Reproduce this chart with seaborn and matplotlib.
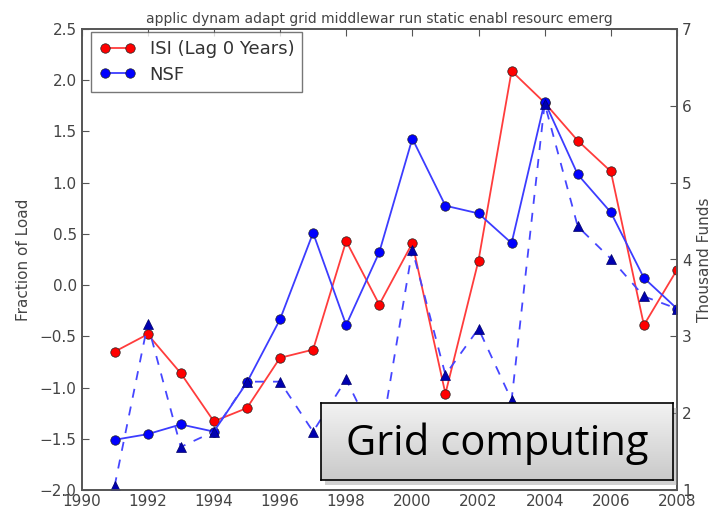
import numpy as np
import pandas as pd
import matplotlib
matplotlib.use("Agg")
import matplotlib.pyplot as plt
import seaborn as sns

years = list(range(1991, 2009))
isi = [-0.65, -0.48, -0.86, -1.33, -1.20, -0.71, -0.63, 0.43, -0.19, 0.41,
       -1.06, 0.24, 2.09, 1.78, 1.41, 1.11, -0.39, 0.15]
nsf = [-1.51, -1.455, -1.36, -1.43, -0.95, -0.335, 0.51, -0.39, 0.32, 1.43,
       0.775, 0.70, 0.41, 1.79, 1.08, 0.71, 0.07, -0.23]
funds = [1.05, 3.16, 1.56, 1.76, 2.41, 2.41, 1.76, 2.44, 1.56, 4.13,
         2.50, 3.10, 2.17, 6.03, 4.43, 4.01, 3.52, 3.36]
title = "applic dynam adapt grid middlewar run static enabl resourc emerg"
xticks = list(range(1990, 2009, 2))
left_ticks = [-2.0, -1.5, -1.0, -0.5, 0.0, 0.5, 1.0, 1.5, 2.0, 2.5]
right_ticks = [1, 2, 3, 4, 5, 6, 7]

sns.set_style("white")
plt.rcParams['font.family'] = ['DejaVu Sans']
txt = '#444444'
plt.rcParams.update({'xtick.direction': 'in', 'ytick.direction': 'in',
                     'xtick.color': '#555555', 'ytick.color': '#555555',
                     'xtick.labelcolor': txt, 'ytick.labelcolor': txt})

df = pd.DataFrame({'year': years, 'isi': isi, 'nsf': nsf, 'funds': funds})

fig = plt.figure(figsize=(7.15, 5.11), dpi=100)
ax = fig.add_axes([81.5/715, 1-490/511, (677-81.5)/715, (490-29)/511])

sns.lineplot(data=df, x='year', y='isi', ax=ax, color='#ff3c3c', marker='o',
             markersize=6.8, markerfacecolor='red', markeredgecolor='#222222',
             markeredgewidth=0.5, lw=1.3, label='ISI (Lag 0 Years)')
sns.lineplot(data=df, x='year', y='nsf', ax=ax, color='#3c3cff', marker='o',
             markersize=6.8, markerfacecolor='blue', markeredgecolor='#222222',
             markeredgewidth=0.5, lw=1.3, label='NSF')
for l in ax.lines:
    l.set_alpha(None)

ax.set_xlim(1990, 2008)
ax.set_ylim(-2.0, 2.5)
ax.set_xticks(xticks)
ax.set_xticklabels([str(t) for t in xticks])
ax.set_yticks(left_ticks)
ax.set_yticklabels([f"{t:.1f}".replace('-', '\u2212') for t in left_ticks])
ax.tick_params(axis='both', labelsize=11, length=5, width=0.8, top=True)
ax.tick_params(axis='x', pad=3)
ax.set_xlabel('')
ax.set_ylabel('Fraction of Load', fontsize=11, color=txt, labelpad=6)
ax.set_title(title, fontsize=10, color=txt, pad=4)

ax2 = ax.twinx()
sns.lineplot(data=df, x='year', y='funds', ax=ax2, color='#4646ff', marker='^',
             markersize=6.8, markeredgecolor='#000066', markeredgewidth=0.5,
             markerfacecolor='#0000b0', lw=1.3, legend=False)
ax2.lines[0].set_dashes((5, 5))
ax2.lines[0].set_alpha(None)
ax2.set_ylim(1, 7)
ax2.set_yticks(right_ticks)
ax2.set_yticklabels([str(t) for t in right_ticks])
ax2.tick_params(axis='y', labelsize=11, length=5, width=0.8, direction='in')
ax2.set_ylabel('Thousand Funds', fontsize=11, color=txt)
ax2.set_xlim(1990, 2008)

for a in (ax, ax2):
    for s in a.spines.values():
        s.set_color('#555555')
        s.set_linewidth(1.2)
        s.set_visible(True)

leg = ax.legend(loc='upper left', fontsize=13, numpoints=2, handlelength=2.0,
                frameon=True, fancybox=False, borderpad=0.45, labelspacing=0.4,
                borderaxespad=0.0, bbox_to_anchor=(0.016, 0.993))
leg.get_frame().set_edgecolor('#555555')
leg.get_frame().set_linewidth(1.0)
for t in leg.get_texts():
    t.set_color('#333333')

# "Grid computing" callout box with gradient
bx0, bx1, by0, by1 = 321, 673, 403, 480
shadow = fig.add_axes([(bx0+4)/715, 1-(by1+5)/511, (bx1-bx0)/715, (by1-by0)/511])
shadow.set_facecolor('#999999')
shadow.patch.set_alpha(0.45)
shadow.set_xticks([]); shadow.set_yticks([])
for s in shadow.spines.values():
    s.set_visible(False)
box = fig.add_axes([bx0/715, 1-by1/511, (bx1-bx0)/715, (by1-by0)/511])
grad = np.linspace(0.95, 0.79, 100).reshape(-1, 1)
box.imshow(np.dstack([grad, grad, grad]), aspect='auto', extent=[0, 1, 0, 1])
box.set_xlim(0, 1); box.set_ylim(0, 1)
box.set_xticks([]); box.set_yticks([])
for s in box.spines.values():
    s.set_color('black'); s.set_linewidth(1.2)
box.text(0.5, 0.47, 'Grid computing', ha='center', va='center',
         fontsize=30, family=['Open Sans', 'DejaVu Sans'], color='black')

fig.savefig('out.png', dpi=100)
